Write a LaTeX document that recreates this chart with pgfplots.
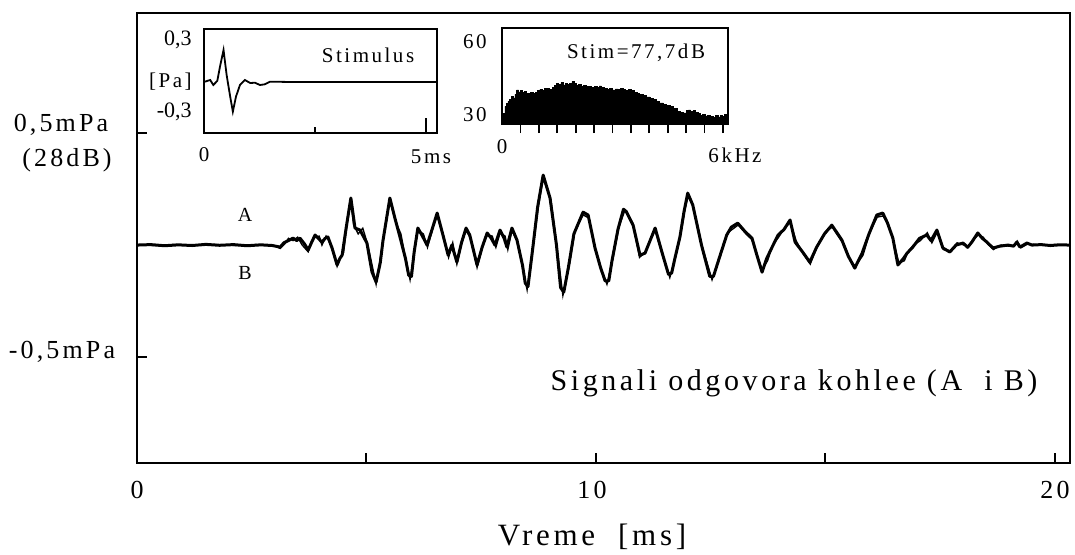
\documentclass[border=0pt]{standalone}
\usepackage{pgfplots}
\pgfplotsset{compat=1.18}
\usepackage{fontspec}
\setmainfont{Liberation Serif}
\newfontfamily\lsfont[LetterSpace=12]{Liberation Serif}
\begin{document}
\begin{tikzpicture}
% ---------------- main axis ----------------
\begin{axis}[at={(0pt,0pt)}, anchor=south west, scale only axis,
  width=466.5pt, height=225pt,
  xmin=0, xmax=20.33, ymin=-0.973, ymax=1.036,
  axis line style={line width=1.3pt},
  xtick={5,10,15,20}, ytick={-0.5,0.5},
  xticklabels={}, yticklabels={},
  xtick pos=bottom, ytick pos=left,
  tick align=inside, major tick length=5pt,
  tick style={line width=1pt, black},
  clip=true]
\addplot[black, line width=1.5pt, line join=round] coordinates {
(0,0) (0.3,0.002) (0.6,-0.003) (0.9,0.001) (1.2,-0.002) (1.5,0.003) (1.8,-0.001) (2.1,0.002) (2.4,-0.003) (2.7,0.001) (2.95,-0.002)
(3.12,-0.009) (3.2,0.01) (3.3,0.02) (3.40,0.031) (3.48,0.02) (3.55,0.031) (3.65,0.005) (3.73,-0.022) (3.8,0.01) (3.88,0.045) (3.95,0.03)
(4.03,0.013) (4.1,0.03) (4.16,0.036) (4.25,-0.013) (4.36,-0.089) (4.42,-0.06) (4.47,-0.045) (4.56,0.08) (4.66,0.210) (4.75,0.076)
(4.86,0.067) (5.01,0.009) (5.12,-0.12) (5.21,-0.165) (5.3,-0.08) (5.36,0.02) (5.51,0.210) (5.62,0.12) (5.73,0.036) (5.85,-0.06) (5.92,-0.135) (5.98,-0.14) (6.04,-0.03)
(6.12,0.076) (6.22,0.04) (6.32,0) (6.43,0.07) (6.54,0.143) (6.66,0.05) (6.78,-0.045) (6.86,0) (6.97,-0.076) (7.07,0.01) (7.17,0.076)
(7.25,0.045) (7.41,-0.089) (7.52,-0.01) (7.63,0.054) (7.72,0.03) (7.80,0) (7.91,0.067) (8.0,0.03) (8.06,-0.009) (8.17,0.076) (8.28,0.022)
(8.40,-0.09) (8.46,-0.17) (8.52,-0.185) (8.62,-0.02) (8.73,0.17) (8.85,0.3125) (9.00,0.210) (9.14,0.0) (9.23,-0.19) (9.30,-0.21) (9.40,-0.1) (9.52,0.05)
(9.72,0.147) (9.83,0.134) (9.98,-0.013) (10.1,-0.1) (10.2,-0.16) (10.28,-0.16) (10.35,-0.07) (10.48,0.07) (10.6,0.16) (10.66,0.15) (10.81,0.089) (10.96,-0.045)
(11.07,-0.036) (11.18,0.02) (11.29,0.076) (11.45,-0.04) (11.58,-0.13) (11.65,-0.125) (11.72,-0.06) (11.83,0.036) (11.92,0.15) (12.00,0.232) (12.11,0.179)
(12.3,0.0) (12.48,-0.14) (12.56,-0.14) (12.7,-0.05) (12.85,0.045) (12.95,0.08) (13.09,0.098) (13.25,0.06) (13.40,0.031) (13.5,-0.04) (13.62,-0.121)
(13.72,-0.06) (13.83,-0.013) (13.97,0.045) (14.1,0.07) (14.23,0.112) (14.34,0.013) (14.5,-0.03) (14.66,-0.076) (14.81,-0.009) (14.98,0.05)
(15.14,0.089) (15.36,0.022) (15.5,-0.05) (15.64,-0.103) (15.80,-0.036) (15.95,0.05) (16.12,0.134) (16.25,0.143) (16.35,0.1) (16.47,0.031)
(16.58,-0.089) (16.7,-0.06) (16.78,-0.036) (16.9,-0.01) (17.05,0.03) (17.21,0.045) (17.3,0.02) (17.43,0.067) (17.56,-0.013) (17.71,-0.031)
(17.85,0.0) (18.00,0.009) (18.1,-0.01) (18.19,0.013) (18.32,0.054) (18.42,0.03) (18.52,0.013) (18.65,-0.013) (18.8,-0.005) (18.98,0)
(19.1,-0.005) (19.17,0.013) (19.24,-0.009) (19.39,0.009) (19.50,0) (19.7,0.002) (19.9,-0.002) (20.1,0.001) (20.33,0)
};
\addplot[black, line width=0.7pt] coordinates {
(0,0.002) (0.4,-0.002) (0.8,0.002) (1.3,-0.001) (1.7,0.002) (2.2,-0.002) (2.6,0.002) (3.0,-0.004)
(3.12,-0.015) (3.22,0.005) (3.3,0.03) (3.40,0.02) (3.5,0.035) (3.6,0.0) (3.73,-0.03) (3.82,0.02) (3.88,0.035) (3.97,0.04)
(4.03,0.0) (4.12,0.04) (4.18,0.02) (4.26,-0.02) (4.36,-0.095) (4.44,-0.05) (4.5,-0.035) (4.58,0.1) (4.66,0.195) (4.72,0.09)
(4.82,0.05) (4.92,0.075) (5.03,0.0) (5.21,-0.175) (5.38,0.04) (5.51,0.2) (5.64,0.1) (5.75,0.05) (5.86,-0.07) (5.95,-0.155) (6.06,-0.01)
(6.12,0.065) (6.24,0.05) (6.33,-0.01) (6.45,0.08) (6.54,0.13) (6.68,0.04) (6.79,-0.055) (6.88,0.01) (6.97,-0.085) (7.09,0.02) (7.17,0.065)
(7.27,0.03) (7.41,-0.1) (7.54,0.0) (7.63,0.045) (7.74,0.04) (7.82,-0.01) (7.91,0.055) (8.02,0.04) (8.08,-0.02) (8.17,0.065) (8.3,0.01)
(8.40,-0.1) (8.50,-0.2) (8.63,-0.01) (8.75,0.18) (8.85,0.30) (9.02,0.2) (9.15,-0.01) (9.28,-0.225) (9.42,-0.09) (9.54,0.06)
(9.72,0.135) (9.85,0.12) (9.99,-0.02) (10.12,-0.11) (10.24,-0.175) (10.37,-0.06) (10.5,0.08) (10.63,0.155) (10.8,0.1) (10.95,-0.055)
(11.08,-0.03) (11.2,0.03) (11.29,0.065) (11.46,-0.05) (11.61,-0.145) (11.74,-0.05) (11.85,0.05) (11.94,0.16) (12.01,0.22) (12.12,0.17)
(12.32,-0.01) (12.53,-0.155) (12.72,-0.04) (12.87,0.055) (12.97,0.07) (13.1,0.09) (13.27,0.05) (13.42,0.02) (13.52,-0.05) (13.62,-0.11)
(13.74,-0.07) (13.85,0.0) (13.98,0.035) (14.12,0.08) (14.24,0.1) (14.36,0.02) (14.52,-0.04) (14.67,-0.085) (14.83,0.0) (15.0,0.06)
(15.15,0.08) (15.37,0.012) (15.52,-0.06) (15.65,-0.095) (15.82,-0.045) (15.97,0.06) (16.13,0.125) (16.26,0.13) (16.37,0.09) (16.48,0.02)
(16.6,-0.08) (16.72,-0.07) (16.8,-0.03) (16.92,0.0) (17.07,0.02) (17.22,0.055) (17.32,0.01) (17.44,0.06) (17.57,-0.02) (17.72,-0.025)
(17.87,0.01) (18.02,0.0) (18.12,-0.005) (18.2,0.02) (18.33,0.045) (18.44,0.035) (18.54,0.005) (18.66,-0.02) (18.82,0.0) (19.0,-0.005)
(19.12,0.0) (19.18,0.018) (19.26,-0.012) (19.4,0.004) (19.52,0.003) (19.75,-0.001) (20.0,0.002) (20.33,0)
};
\end{axis}
% ---------------- inset 1: stimulus ----------------
\begin{axis}[at={(33.5pt,165pt)}, anchor=south west, scale only axis,
  width=116.5pt, height=52pt,
  xmin=0, xmax=5.248, ymin=-0.425, ymax=0.442,
  axis line style={line width=0.9pt},
  xtick={2.5}, ytick=\empty, xticklabels={},
  xtick pos=bottom, tick align=inside, major tick length=3pt,
  tick style={line width=1pt, black},
  extra x ticks={5}, extra x tick labels={},
  extra x tick style={major tick length=7.5pt, tick style={line width=1pt, black}}]
\addplot[black, line width=0.9pt] coordinates {
(0,0) (0.02,0.003) (0.14,0.017) (0.21,-0.025) (0.30,0.01) (0.36,0.128) (0.44,0.267) (0.51,0.058) (0.59,-0.122)
(0.65,-0.247) (0.72,-0.122) (0.81,-0.025) (0.92,0.017) (1.04,-0.008) (1.15,-0.006) (1.26,-0.025) (1.37,-0.019) (1.49,0.003)
(2.0,0) (3.0,0) (4.0,0) (5.248,0)
};
\end{axis}
% ---------------- inset 2: spectrum ----------------
\begin{axis}[at={(182.5pt,169.5pt)}, anchor=south west, scale only axis,
  width=113pt, height=48pt,
  xmin=0, xmax=6.136, ymin=26.3, ymax=65.75,
  axis line style={line width=0.9pt},
  xtick={0.5,1,1.5,2,2.5,3,3.5,4,4.5,5,5.5,6}, ytick=\empty, xticklabels={},
  xtick pos=bottom, tick align=outside, major tick length=4.5pt,
  tick style={line width=0.9pt, black}]
\addplot[const plot, fill=black, draw=black, line width=0.3pt] coordinates {
(0.00,26.3) (0.04,30.5) (0.08,33.5) (0.12,34.8) (0.16,35.6) (0.20,36.4) (0.25,37.5) (0.30,37.0) (0.35,38.6) (0.40,40.3)
(0.45,39.5) (0.50,40.1) (0.55,39.4) (0.60,39.8) (0.66,39.0) (0.72,38.9) (0.78,39.4) (0.84,38.8) (0.90,39.2) (0.96,40.0)
(1.03,40.6) (1.09,40.2) (1.15,40.9) (1.22,41.0) (1.28,40.5) (1.36,41.4) (1.42,42.2) (1.48,43.0) (1.54,42.6) (1.60,43.3)
(1.66,42.4) (1.72,42.9) (1.78,42.6) (1.84,43.1) (1.90,43.7) (1.96,42.9) (2.02,42.3) (2.08,42.7) (2.14,41.9) (2.20,42.2)
(2.28,41.6) (2.35,41.9) (2.42,41.4) (2.50,41.8) (2.58,41.4) (2.64,42.0) (2.70,41.2) (2.78,41.0) (2.85,40.6) (2.92,40.9)
(3.00,40.3) (3.08,40.7) (3.15,40.4) (3.22,40.8) (3.29,40.6) (3.36,40.2) (3.44,40.5) (3.52,40.0) (3.58,39.3) (3.66,38.9)
(3.74,38.6) (3.84,38.2) (3.92,37.4) (4.02,36.8) (4.10,36.3) (4.20,35.5) (4.28,35.0) (4.38,34.5) (4.46,34.1) (4.56,33.4)
(4.65,32.6) (4.75,31.4) (4.84,31.0) (4.92,30.9) (5.00,32.0) (5.06,32.1) (5.12,31.6) (5.19,31.8) (5.26,31.0) (5.32,30.5)
(5.38,30.0) (5.45,30.4) (5.52,29.6) (5.57,29.9) (5.65,29.3) (5.73,29.0) (5.80,29.8) (5.86,29.2) (5.92,30.0) (5.98,29.5)
(6.04,30.4) (6.10,30.0) (6.136,30.0)
} \closedcycle;
\end{axis}
% ---------------- texts ----------------
\begin{scope}[every node/.style={inner sep=0pt, font=\lsfont\fontsize{13}{15}\selectfont}]
\node at (-38pt,169pt) {0,5mPa};
\node at (-35pt,151.5pt) {(28dB)};
\node at (-37.5pt,55.5pt) {-0,5mPa};
\node at (0pt,-13.5pt) {0};
\node at (227.5pt,-13.5pt) {10};
\node at (459pt,-13.5pt) {20};
\node[font=\lsfont\fontsize{15.5}{17}\selectfont] at (227.5pt,-37pt) {Vreme\ \ [ms]};
\node[font=\lsfont\fontsize{15}{17}\selectfont] at (328.5pt,40pt) {Signali odgovora kohlee (A\ \ i B)};
\node[font=\lsfont\fontsize{10}{12}\selectfont] at (54pt,124pt) {A};
\node[font=\lsfont\fontsize{10}{12}\selectfont] at (54pt,95pt) {B};
\end{scope}
\begin{scope}[every node/.style={inner sep=0pt, font=\lsfont\fontsize{10.5}{12}\selectfont}]
\node at (115.5pt,204pt) {Stimulus};
\node[anchor=east, font=\fontsize{11}{12}\selectfont] at (27.5pt,211.5pt) {0,3};
\node[anchor=east, font=\lsfont\fontsize{10.5}{12}\selectfont] at (27.5pt,190.5pt) {[Pa]};
\node[anchor=east, font=\fontsize{11}{12}\selectfont] at (27.5pt,175.5pt) {-0,3};
\node at (33.5pt,154pt) {0};
\node at (147pt,153pt) {5ms};
\node at (249.5pt,205pt) {Stim=77,7dB};
\node[anchor=east] at (175pt,210.5pt) {60};
\node[anchor=east] at (175pt,174pt) {30};
\node at (182.5pt,158pt) {0};
\node at (299pt,154pt) {6kHz};
\end{scope}
\pgfresetboundingbox
\path (-68.5pt,-45.5pt) rectangle (469pt,231.5pt);
\end{tikzpicture}
\end{document}
